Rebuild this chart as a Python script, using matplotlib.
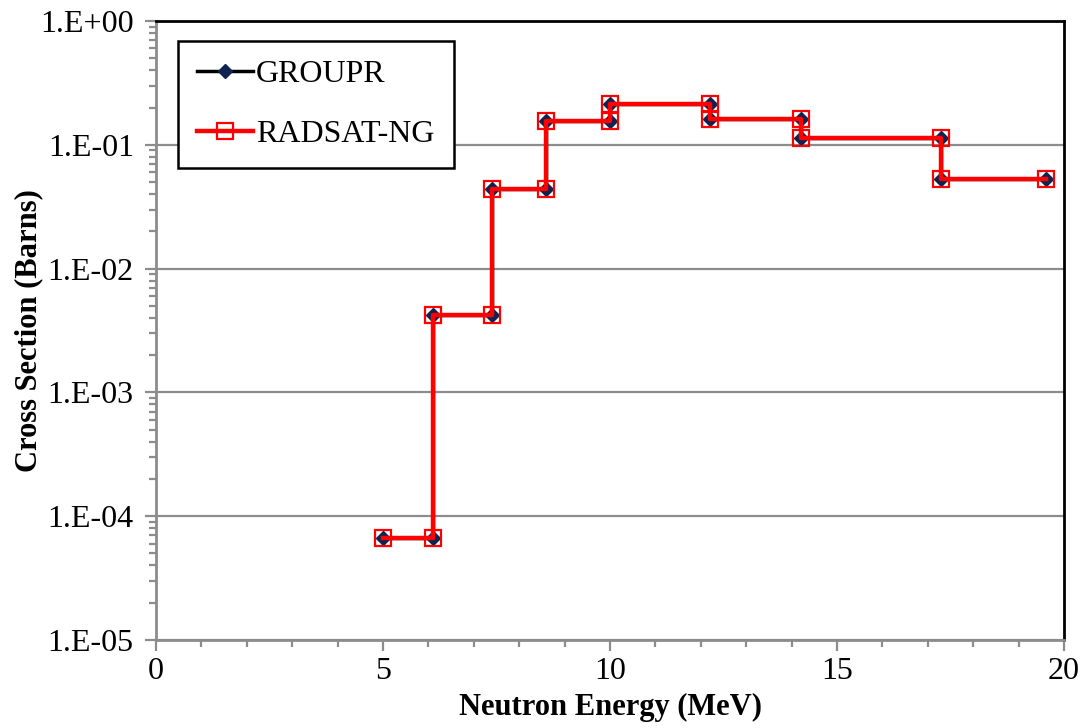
import numpy as np
import matplotlib
matplotlib.use('Agg')
import matplotlib.pyplot as plt
from matplotlib.ticker import FuncFormatter, MultipleLocator, LogLocator, NullFormatter

# group boundaries (MeV) and group-averaged cross sections (barns)
group_edges = [5.0, 6.1, 7.4, 8.6, 10.0, 12.2, 14.2, 17.3, 19.6]
groupr_xs = [6.7e-5, 4.2e-3, 4.4e-2, 1.56e-1, 2.14e-1, 1.61e-1, 1.13e-1, 5.3e-2]
radsat_xs = [6.7e-5, 4.2e-3, 4.4e-2, 1.56e-1, 2.14e-1, 1.61e-1, 1.13e-1, 5.3e-2]


def step_points(edges, vals):
    xs, ys = [], []
    for i, v in enumerate(vals):
        xs += [edges[i], edges[i + 1]]
        ys += [v, v]
    return xs, ys


plt.rcParams['font.family'] = ['Liberation Serif', 'DejaVu Serif']

fig = plt.figure(figsize=(10.87, 7.28), dpi=100)
ax = fig.add_axes([0.1435, 0.1209, 0.8354, 0.8503])

gx, gy = step_points(group_edges, groupr_xs)
rx, ry = step_points(group_edges, radsat_xs)

ax.plot(gx, gy, color='black', linewidth=2.5, marker='D', markersize=7,
        markerfacecolor='#0f2350', markeredgecolor='#0f2350', label='GROUPR', zorder=3)
ax.plot(rx, ry, color='#ff0000', linewidth=3.2, marker='s', markersize=11,
        markerfacecolor='none', markeredgecolor='#ff0000', markeredgewidth=1.6,
        label='RADSAT-NG', zorder=4)

ax.set_yscale('log')
ax.set_ylim(1e-5, 1)
ax.set_xlim(0, 20)

ax.xaxis.set_major_locator(MultipleLocator(5))
ax.xaxis.set_minor_locator(MultipleLocator(1))
ax.yaxis.set_major_locator(LogLocator(base=10, numticks=10))
ax.yaxis.set_minor_locator(LogLocator(base=10, subs=np.arange(2, 10), numticks=20))
ax.yaxis.set_minor_formatter(NullFormatter())
ax.yaxis.set_major_formatter(FuncFormatter(lambda v, p: '1.E%+03d' % int(round(np.log10(v)))))

ax.grid(axis='y', which='major', color='#8c8c8c', linewidth=1.6)
ax.set_axisbelow(True)

for s in ['left', 'bottom']:
    ax.spines[s].set_color('#8c8c8c')
    ax.spines[s].set_linewidth(2)
for s in ['top', 'right']:
    ax.spines[s].set_color('black')
    ax.spines[s].set_linewidth(2)

ax.tick_params(which='major', direction='out', length=8, width=1.6, color='#8c8c8c',
               labelsize=23, pad=8)
ax.tick_params(which='minor', direction='out', length=5, width=1.6, color='#8c8c8c')
ax.tick_params(axis='x', which='major', pad=4)

ax.set_xlabel('Neutron Energy (MeV)', fontsize=22, fontweight='bold', labelpad=5)
ax.set_ylabel('Cross Section (Barns)', fontsize=22, fontweight='bold', labelpad=-2)

leg = ax.legend(loc='upper left', bbox_to_anchor=(0.024, 0.968), fontsize=23,
                frameon=True, fancybox=False, edgecolor='black', framealpha=1,
                handlelength=1.75, handletextpad=0.1, labelspacing=0.95,
                borderpad=0.6, borderaxespad=0)
leg.get_frame().set_linewidth(1.8)

fig.savefig('out.png', dpi=100)
